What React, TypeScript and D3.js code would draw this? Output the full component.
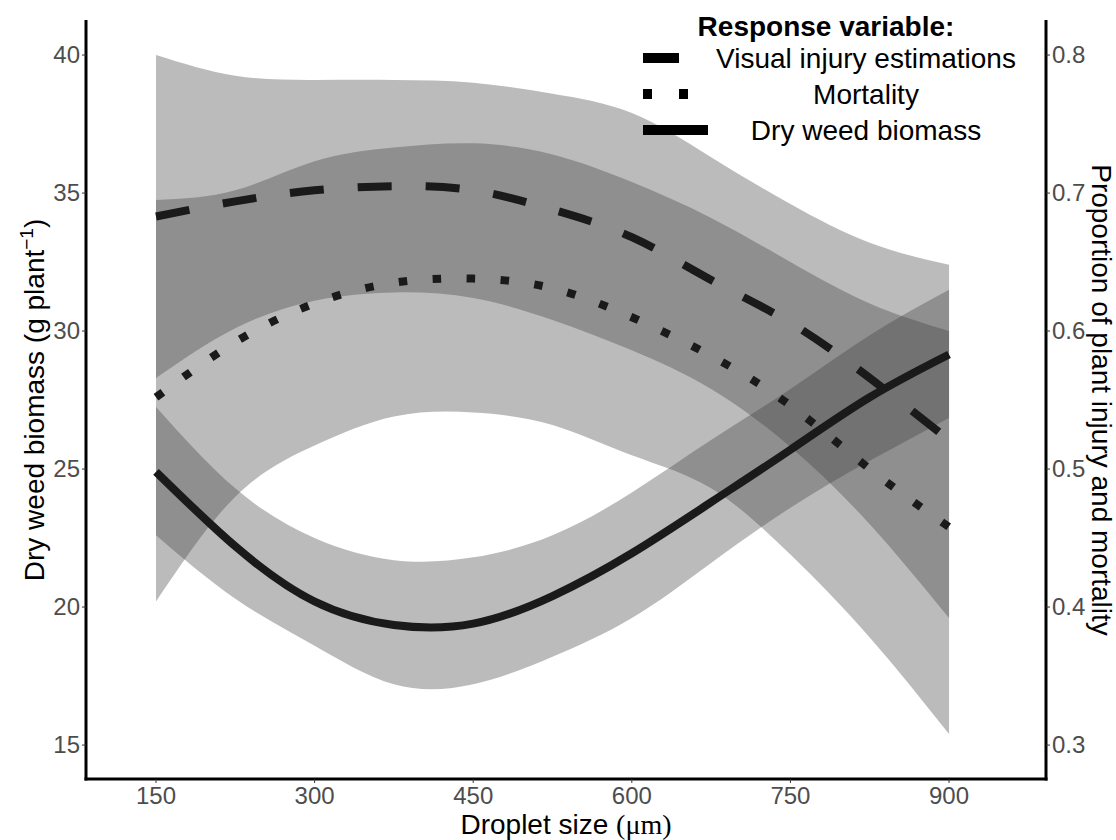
import React from "react";
import * as d3 from "d3";

// droplet size (µm) where the fitted curves were read
const dropletSizes = [150, 225, 300, 375, 450, 525, 600, 675, 750, 825, 900];

// visual injury estimations (proportion, right axis)
const injuryFit = [0.683, 0.694, 0.702, 0.705, 0.702, 0.688, 0.668, 0.637, 0.606, 0.566, 0.521];
const injuryLow = [0.566, 0.602, 0.622, 0.628, 0.624, 0.608, 0.586, 0.558, 0.516, 0.46, 0.392];
const injuryHigh = [0.8, 0.785, 0.782, 0.782, 0.78, 0.772, 0.758, 0.726, 0.692, 0.664, 0.648];

// mortality (proportion, right axis)
const mortalityFit = [0.552, 0.592, 0.62, 0.635, 0.638, 0.631, 0.61, 0.582, 0.546, 0.5, 0.458];
const mortalityLow = [0.404, 0.48, 0.517, 0.538, 0.541, 0.532, 0.51, 0.486, 0.438, 0.378, 0.308];
const mortalityHigh = [0.695, 0.702, 0.723, 0.733, 0.736, 0.728, 0.708, 0.682, 0.65, 0.62, 0.6];

// dry weed biomass (g plant-1, left axis)
const biomassFit = [24.9, 22.2, 20.2, 19.35, 19.4, 20.4, 21.95, 23.8, 25.7, 27.6, 29.15];
const biomassLow = [22.6, 20.3, 18.6, 17.2, 17.2, 18.2, 19.6, 21.6, 23.6, 25.3, 26.85];
const biomassHigh = [27.25, 24.3, 22.5, 21.7, 21.8, 22.6, 24.15, 26.05, 27.9, 29.85, 31.5];

const xTicks = [150, 300, 450, 600, 750, 900];
const biomassTicks = [15, 20, 25, 30, 35, 40];
const proportionTicks = [0.3, 0.4, 0.5, 0.6, 0.7, 0.8];

const legendLabels = ["Visual injury estimations", "Mortality", "Dry weed biomass"];

const W = 1116;
const H = 840;
const left = 86;
const right = 1046;
const top = 20;
const bottom = 779;
const sans = "'Liberation Sans', Arial, Helvetica, sans-serif";
const serif = "'Liberation Serif', 'Times New Roman', serif";

export default function App() {
  const x = d3.scaleLinear().domain([83.8, 991.7]).range([left, right]);
  const y = d3.scaleLinear().domain([13.77, 41.27]).range([bottom, top]);
  const yProp = d3.scaleLinear().domain([13.77 / 50, 41.27 / 50]).range([bottom, top]);

  const curve = d3.curveNatural;

  const band = (lo: number[], hi: number[], sc: d3.ScaleLinear<number, number>) =>
    d3.area<number>()
      .x((d, i) => x(dropletSizes[i]))
      .y0((d, i) => sc(lo[i]))
      .y1((d, i) => sc(hi[i]))
      .curve(curve)(lo) as string;

  const line = (vals: number[], sc: d3.ScaleLinear<number, number>) =>
    d3.line<number>()
      .x((d, i) => x(dropletSizes[i]))
      .y(d => sc(d))
      .curve(curve)(vals) as string;

  const ribbonFill = "#3e3e3e";
  const ribbonOpacity = 0.353;
  const lineColor = "#1a1a1a";
  const lw = 8;

  const dashes = ["34,34", "8.5,25.5", "none"];
  const legendY = [58, 94, 130];

  return (
    <svg width={W} height={H} style={{ position: "absolute", left: 0, top: 0, background: "#fff" }}>
      <rect width={W} height={H} fill="#fff" />

      {/* confidence ribbons */}
      <path d={band(injuryLow, injuryHigh, yProp)} fill={ribbonFill} fillOpacity={ribbonOpacity} />
      <path d={band(mortalityLow, mortalityHigh, yProp)} fill={ribbonFill} fillOpacity={ribbonOpacity} />
      <path d={band(biomassLow, biomassHigh, y)} fill={ribbonFill} fillOpacity={ribbonOpacity} />

      {/* fitted lines */}
      <path d={line(injuryFit, yProp)} fill="none" stroke={lineColor} strokeWidth={lw} strokeDasharray={dashes[0]} />
      <path d={line(mortalityFit, yProp)} fill="none" stroke={lineColor} strokeWidth={lw} strokeDasharray={dashes[1]} />
      <path d={line(biomassFit, y)} fill="none" stroke={lineColor} strokeWidth={lw} />

      {/* axes */}
      <line x1={left} x2={left} y1={top} y2={bottom + 1.5} stroke="#000" strokeWidth={3} />
      <line x1={right} x2={right} y1={top} y2={bottom + 1.5} stroke="#000" strokeWidth={3} />
      <line x1={left - 1.5} x2={right + 1.5} y1={bottom} y2={bottom} stroke="#000" strokeWidth={3} />

      {biomassTicks.map(t => (
        <g key={"l" + t}>
          <line x1={left - 4} x2={left} y1={y(t)} y2={y(t)} stroke="#333" strokeWidth={1} />
          <text x={left - 6} y={y(t)} dy="0.35em" textAnchor="end" fontSize={24} fill="#4d4d4d" fontFamily={sans}>{t}</text>
        </g>
      ))}
      {proportionTicks.map(t => (
        <g key={"r" + t}>
          <line x1={right} x2={right + 4} y1={yProp(t)} y2={yProp(t)} stroke="#333" strokeWidth={1} />
          <text x={right + 6} y={yProp(t)} dy="0.35em" textAnchor="start" fontSize={24} fill="#4d4d4d" fontFamily={sans}>{t.toFixed(1)}</text>
        </g>
      ))}
      {xTicks.map(t => (
        <g key={"b" + t}>
          <line x1={x(t)} x2={x(t)} y1={bottom} y2={bottom + 4} stroke="#333" strokeWidth={1} />
          <text x={x(t)} y={804} textAnchor="middle" fontSize={24} fill="#4d4d4d" fontFamily={sans}>{t}</text>
        </g>
      ))}

      {/* axis titles */}
      <text transform="translate(44,400) rotate(-90)" textAnchor="middle" fontSize={28} fontFamily={sans} fill="#000">
        Dry weed biomass (g plant<tspan dy={-11} fontSize={19}>−1</tspan><tspan dy={11}>)</tspan>
      </text>
      <text transform="translate(1092,400) rotate(90)" textAnchor="middle" fontSize={28} fontFamily={sans} fill="#000">
        Proportion of plant injury and mortality
      </text>
      <text x={(left + right) / 2} y={834} textAnchor="middle" fontSize={28} fontFamily={sans} fill="#000">
        Droplet size <tspan fontFamily={serif}>(μm)</tspan>
      </text>

      {/* legend */}
      <text x={826} y={36} textAnchor="middle" fontSize={28} fontWeight="bold" fontFamily={sans} fill="#000">
        Response variable:
      </text>
      {legendLabels.map((lab, i) => (
        <g key={lab}>
          <line x1={643} x2={708} y1={legendY[i]} y2={legendY[i]} stroke="#000" strokeWidth={10}
            strokeDasharray={i === 0 ? "36,36" : i === 1 ? "9,27" : "none"} />
          <text x={866} y={legendY[i] + 10} textAnchor="middle" fontSize={28} fontFamily={sans} fill="#000">{lab}</text>
        </g>
      ))}
    </svg>
  );
}
